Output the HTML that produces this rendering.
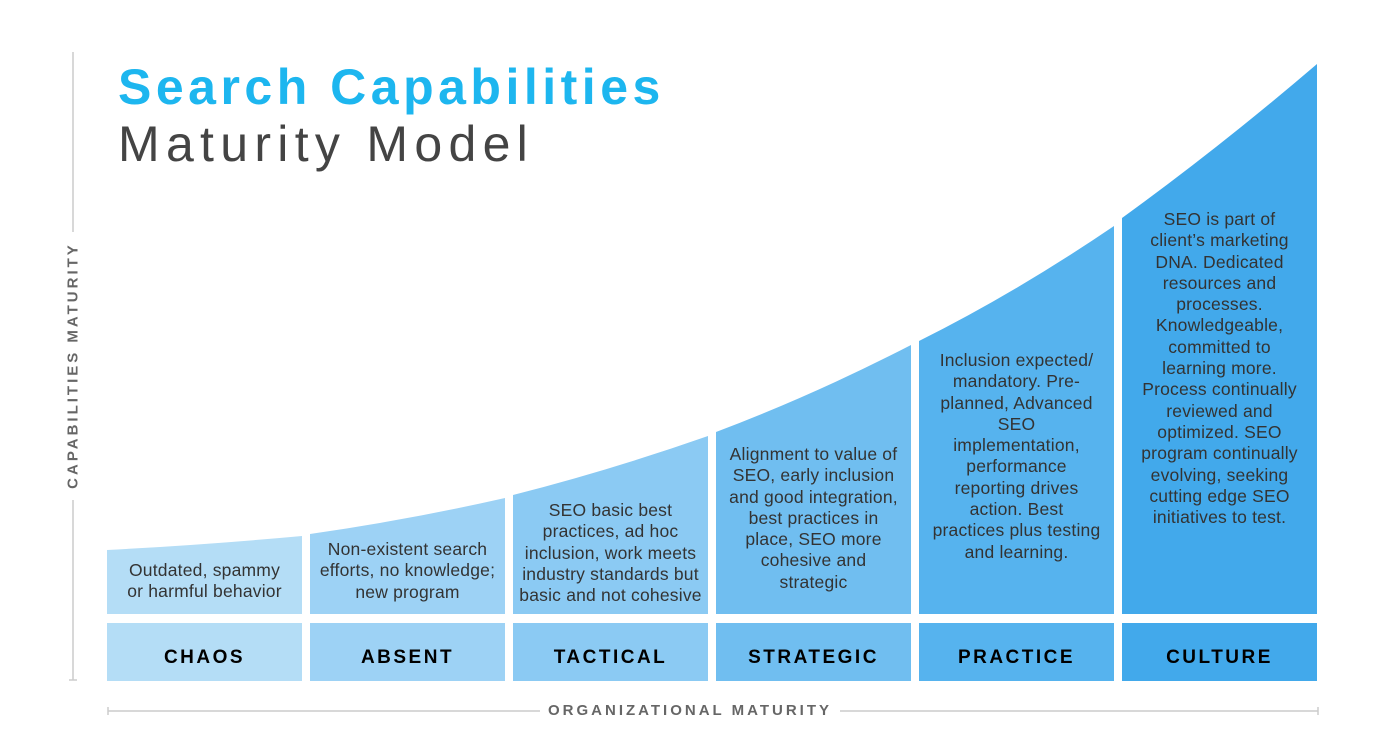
<!DOCTYPE html>
<html><head><meta charset="utf-8"><style>
body{margin:0;width:1388px;height:750px;background:#fff;position:relative;overflow:hidden;font-family:"Liberation Sans",sans-serif}
.t1{position:absolute;left:118px;top:58px;font-size:50px;font-weight:bold;color:#1db6ef;letter-spacing:4.5px}
.t2{position:absolute;left:118px;top:115px;font-size:50px;color:#444;font-weight:300;letter-spacing:6.3px}
.d{position:absolute;text-align:center;color:#333;font-size:17.5px;line-height:21.3px;white-space:nowrap;letter-spacing:0.2px}
.lab{position:absolute;top:623px;height:58px;width:195px;line-height:70px;text-align:center;font-weight:900;font-size:19px;letter-spacing:2.5px;color:#000}
.ax{position:absolute;color:#666;font-weight:bold;font-size:15px;letter-spacing:3px}
</style></head><body>
<svg width="1388" height="750" style="position:absolute;left:0;top:0">
<g stroke="#ccc" stroke-width="1.5">
<line x1="73" y1="52" x2="73" y2="232"/><line x1="73" y1="500" x2="73" y2="680"/><line x1="69" y1="680" x2="77" y2="680"/>
<line x1="108" y1="711" x2="540" y2="711"/><line x1="840" y1="711" x2="1318" y2="711"/>
<line x1="108" y1="707" x2="108" y2="715"/><line x1="1318" y1="707" x2="1318" y2="715"/></g>
<path d="M107 614 L107 550 Q204 545 302 536 L302 614Z" fill="#b4ddf6"/>
<path d="M310 614 L310 534 Q408 520 505 498 L505 614Z" fill="#9dd2f5"/>
<path d="M513 614 L513 495 Q611 470 708 436 L708 614Z" fill="#8bcaf3"/>
<path d="M716 614 L716 432 Q814 395 911 345 L911 614Z" fill="#70bef0"/>
<path d="M919 614 L919 341 Q1017 292 1114 226 L1114 614Z" fill="#56b3ee"/>
<path d="M1122 614 L1122 218 Q1220 147 1317 64 L1317 614Z" fill="#42a9eb"/>
<rect x="107" y="623" width="195" height="58" fill="#b4ddf6"/>
<rect x="310" y="623" width="195" height="58" fill="#9dd2f5"/>
<rect x="513" y="623" width="195" height="58" fill="#8bcaf3"/>
<rect x="716" y="623" width="195" height="58" fill="#70bef0"/>
<rect x="919" y="623" width="195" height="58" fill="#56b3ee"/>
<rect x="1122" y="623" width="195" height="58" fill="#42a9eb"/>
</svg>
<div class="t1">Search Capabilities</div>
<div class="t2">Maturity Model</div>
<div class="d" style="left:107px;width:195px;top:560px">Outdated, spammy<br>or harmful behavior</div>
<div class="d" style="left:310px;width:195px;top:539px">Non-existent search<br>efforts, no knowledge;<br>new program</div>
<div class="d" style="left:513px;width:195px;top:500px">SEO basic best<br>practices, ad hoc<br>inclusion, work meets<br>industry standards but<br>basic and not cohesive</div>
<div class="d" style="left:716px;width:195px;top:444px">Alignment to value of<br>SEO, early inclusion<br>and good integration,<br>best practices in<br>place, SEO more<br>cohesive and<br>strategic</div>
<div class="d" style="left:919px;width:195px;top:350px">Inclusion expected/<br>mandatory. Pre-<br>planned, Advanced<br>SEO<br>implementation,<br>performance<br>reporting drives<br>action. Best<br>practices plus testing<br>and learning.</div>
<div class="d" style="left:1122px;width:195px;top:209px">SEO is part of<br>client’s marketing<br>DNA. Dedicated<br>resources and<br>processes.<br>Knowledgeable,<br>committed to<br>learning more.<br>Process continually<br>reviewed and<br>optimized. SEO<br>program continually<br>evolving, seeking<br>cutting edge SEO<br>initiatives to test.</div>
<div class="lab" style="left:107px">CHAOS</div>
<div class="lab" style="left:310px">ABSENT</div>
<div class="lab" style="left:513px">TACTICAL</div>
<div class="lab" style="left:716px">STRATEGIC</div>
<div class="lab" style="left:919px">PRACTICE</div>
<div class="lab" style="left:1122px">CULTURE</div>
<div class="ax" style="left:540px;width:300px;text-align:center;top:702px">ORGANIZATIONAL MATURITY</div>
<div class="ax" style="left:-77px;top:357px;width:300px;text-align:center;transform:rotate(-90deg)">CAPABILITIES MATURITY</div>
</body></html>
